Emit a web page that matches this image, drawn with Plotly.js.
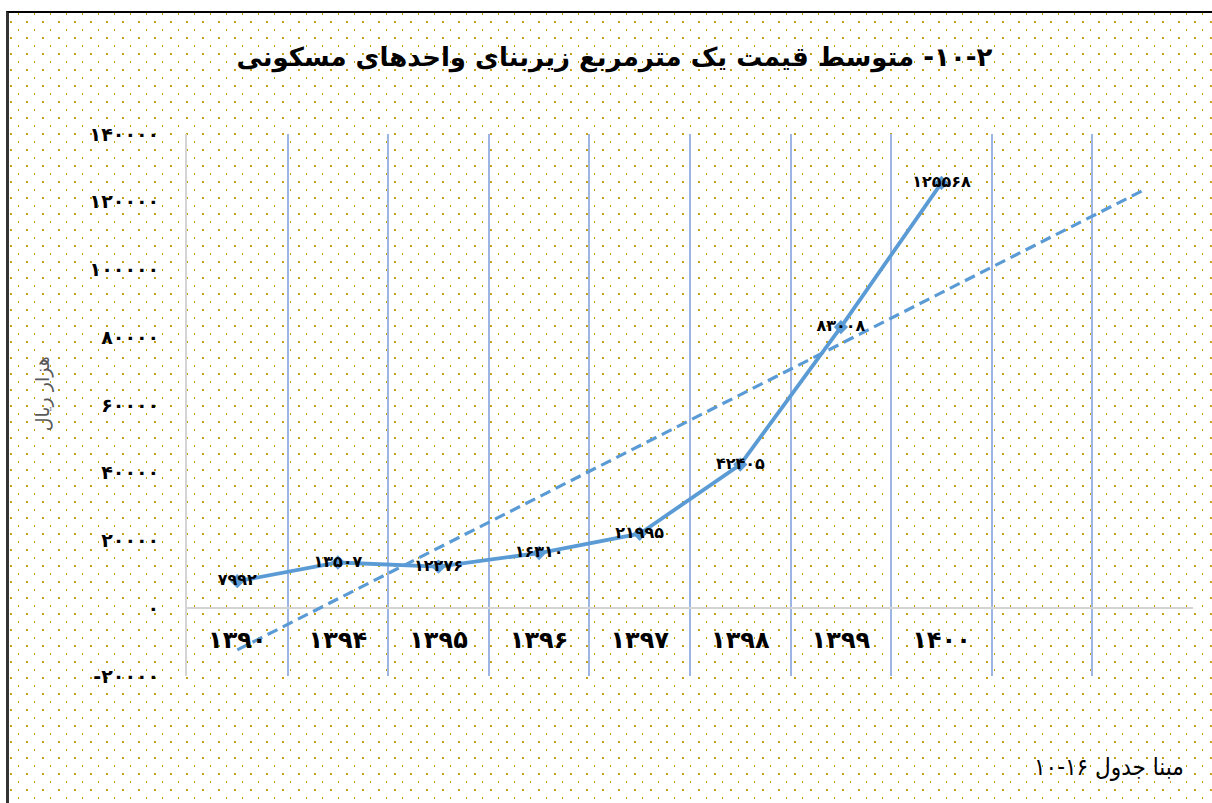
<!DOCTYPE html>
<html>
<head>
<meta charset="utf-8">
<script src="https://cdn.plot.ly/plotly-3.0.1.min.js"></script>
<style>
  html, body { margin: 0; padding: 0; background: #ffffff; width: 1212px; height: 803px; overflow: hidden; }
  #frame {
    position: absolute; left: 6px; top: 11px; width: 1206px; height: 792px;
    border-top: 2px solid #000; border-left: 3px solid #333;
    box-sizing: border-box;
    background-image: url("data:image/svg+xml;utf8,<svg xmlns='http://www.w3.org/2000/svg' width='16' height='16'><rect x='2' y='13' width='1' height='2' fill='%23c9a016'/><rect x='10' y='5' width='2' height='2' fill='%23c9a016'/></svg>");
    background-origin: border-box;
    background-position: -6px -11px;
  }
  #chart { position: absolute; left: 0; top: 0; width: 1212px; height: 803px; }
</style>
</head>
<body>
<div id="frame"></div>
<div id="chart"></div>
<script>
// ---- data ----
const categories = ['۱۳۹۰', '۱۳۹۴', '۱۳۹۵', '۱۳۹۶', '۱۳۹۷', '۱۳۹۸', '۱۳۹۹', '۱۴۰۰'];
const values = [7992, 13507, 12276, 16310, 21995, 42405, 83008, 125568];
const valueLabels = ['۷۹۹۲', '۱۳۵۰۷', '۱۲۲۷۶', '۱۶۳۱۰', '۲۱۹۹۵', '۴۲۴۰۵', '۸۳۰۰۸', '۱۲۵۵۶۸'];
// linear trendline (forecast forward 2 periods), endpoints
const trendSlots = [1, 10];
const trendValues = [-12300, 123300];
const yTickVals = [-20000, 0, 20000, 40000, 60000, 80000, 100000, 120000, 140000];
const yTickText = ['-۲۰۰۰۰', '۰', '۲۰۰۰۰', '۴۰۰۰۰', '۶۰۰۰۰', '۸۰۰۰۰', '۱۰۰۰۰۰', '۱۲۰۰۰۰', '۱۴۰۰۰۰'];
const titleText = '\u202B۲\u200F-\u200F۱۰\u200F- متوسط قیمت یک مترمربع زیربنای واحدهای مسکونی\u202C';
const yTitleText = 'هزار ریال';
const noteText = '\u202Bمبنا جدول ۱۶\u200F-\u200F۱۰\u202C';

const slots = categories.map((c, i) => i + 1);
const gridVals = [1.5, 2.5, 3.5, 4.5, 5.5, 6.5, 7.5, 8.5, 9.5, 10.5];
const blue = '#5b9bd5';
const FONT = 'DejaVu Sans, sans-serif';

const traces = [
  {
    x: trendSlots, y: trendValues, type: 'scatter', mode: 'lines',
    line: {color: blue, width: 3.2, dash: '11px,6px'},
    xaxis: 'x', yaxis: 'y', hoverinfo: 'skip'
  },
  {
    x: slots, y: values, type: 'scatter', mode: 'lines+markers+text',
    text: valueLabels, textposition: 'middle center',
    textfont: {family: FONT, size: 16, color: '#000', weight: 'bold'},
    line: {color: blue, width: 3.8},
    marker: {symbol: 'diamond', size: 11, color: blue},
    xaxis: 'x', yaxis: 'y', cliponaxis: false, hoverinfo: 'skip'
  }
];

const layout = {
  width: 1212, height: 803,
  paper_bgcolor: 'rgba(0,0,0,0)', plot_bgcolor: 'rgba(0,0,0,0)',
  margin: {l: 187, r: 19, t: 134, b: 127},
  showlegend: false, hovermode: false,
  title: {
    text: titleText, xref: 'container', x: 0.507, xanchor: 'center',
    yref: 'container', y: 1 - 57 / 803, yanchor: 'middle',
    font: {family: FONT, size: 26, color: '#000', weight: 'bold'}
  },
  xaxis: {
    range: [0.5, 10.5], tickvals: gridVals, showticklabels: false, ticks: '',
    showgrid: true, gridcolor: '#9db5e3', gridwidth: 2, zeroline: false, showline: false
  },
  xaxis2: {
    overlaying: 'x', anchor: 'free', position: 0.125, range: [0.5, 10.5],
    tickvals: slots, ticktext: categories, ticks: '', showgrid: false, zeroline: false, showline: false,
    ticklabelstandoff: 15,
    tickfont: {family: FONT, size: 24, color: '#000', weight: 'bold'}
  },
  yaxis: {
    range: [-20000, 140000], tickvals: yTickVals, ticktext: yTickText, ticks: '',
    showgrid: false, showline: true, linecolor: '#d4d4d4', linewidth: 2,
    zeroline: true, zerolinecolor: '#d4d4d4', zerolinewidth: 2,
    ticklabelstandoff: 22,
    tickfont: {family: FONT, size: 19, color: '#000', weight: 'bold'}
  },
  annotations: [
    {
      text: yTitleText, xref: 'paper', yref: 'paper', x: -0.144, y: 0.52,
      xanchor: 'center', yanchor: 'middle', textangle: -90, showarrow: false,
      font: {family: FONT, size: 19, color: '#595959'}
    },
    {
      text: noteText, xref: 'paper', yref: 'paper', x: 0.993, y: -0.168,
      xanchor: 'right', yanchor: 'middle', showarrow: false,
      font: {family: 'DejaVu Sans Condensed, DejaVu Sans, sans-serif', size: 24, color: '#000'}
    }
  ]
};

// dummy trace so that xaxis2 draws its tick labels
traces.push({x: [1], y: [null], xaxis: 'x2', yaxis: 'y', type: 'scatter', mode: 'markers', hoverinfo: 'skip', showlegend: false});

Plotly.newPlot('chart', traces, layout, {staticPlot: true, displayModeBar: false});
</script>
</body>
</html>
